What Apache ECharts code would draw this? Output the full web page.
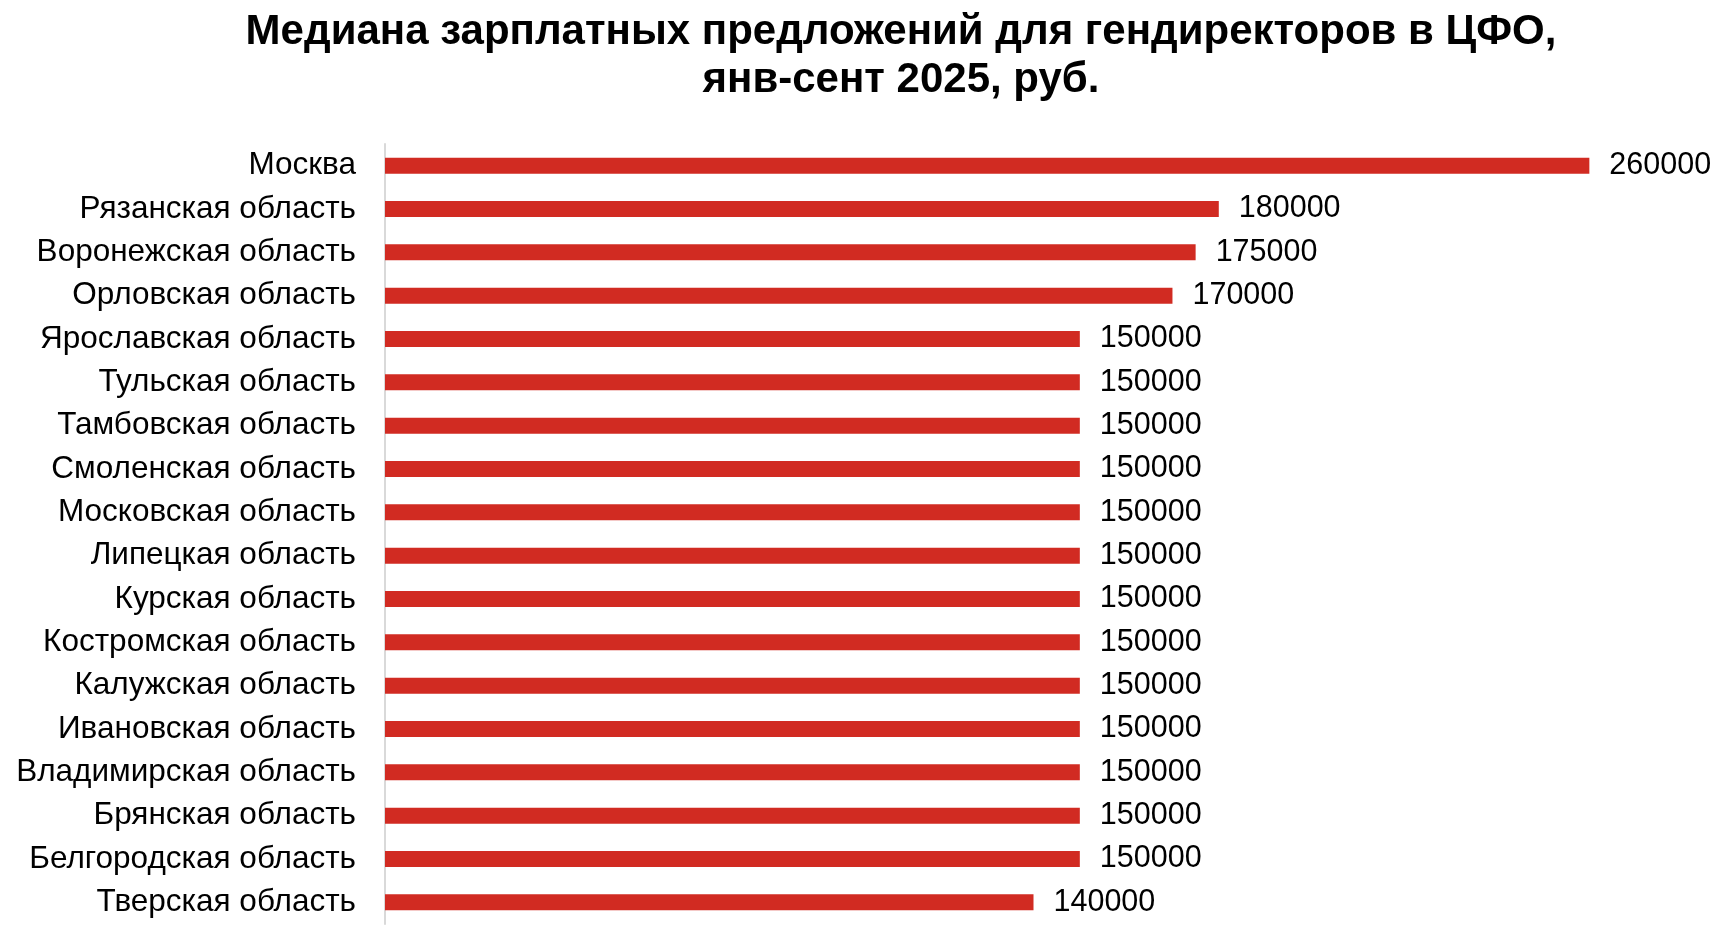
<!DOCTYPE html>
<html>
<head>
<meta charset="utf-8">
<script src="https://cdn.jsdelivr.net/npm/echarts@6/dist/echarts.min.js"></script>
<style>
  html, body { margin: 0; padding: 0; background: #fff; }
  #main { width: 1734px; height: 930px; }
</style>
</head>
<body>
<div id="main"></div>
<script>
// регионы сверху вниз
var regions = [
  'Москва', 'Рязанская область', 'Воронежская область', 'Орловская область',
  'Ярославская область', 'Тульская область', 'Тамбовская область', 'Смоленская область',
  'Московская область', 'Липецкая область', 'Курская область', 'Костромская область',
  'Калужская область', 'Ивановская область', 'Владимирская область', 'Брянская область',
  'Белгородская область', 'Тверская область'
];
// медиана, руб.
var salaries = [
  260000, 180000, 175000, 170000,
  150000, 150000, 150000, 150000,
  150000, 150000, 150000, 150000,
  150000, 150000, 150000, 150000,
  150000, 140000
];

var myChart = echarts.init(document.getElementById('main'));
myChart.setOption({
  animation: false,
  title: {
    text: 'Медиана зарплатных предложений для гендиректоров в ЦФО,\nянв-сент 2025, руб.',
    left: 896, // центр заголовка правее середины
    textAlign: 'center',
    top: 3,
    textStyle: {
      fontFamily: 'Liberation Sans',
      fontWeight: 'bold',
      fontSize: 42,
      lineHeight: 48,
      color: '#000'
    }
  },
  grid: {
    left: 385,
    right: 52,
    top: 144,
    bottom: 6
  },
  xAxis: {
    type: 'value',
    min: 0,
    max: 280000,
    show: false
  },
  yAxis: {
    type: 'category',
    inverse: true,
    data: regions,
    axisTick: { show: false },
    axisLine: {
      lineStyle: { color: '#d9d9d9', width: 2 }
    },
    axisLabel: {
      margin: 29,
      fontFamily: 'Liberation Sans',
      fontSize: 31.5,
      color: '#000'
    }
  },
  series: [{
    name: 'Медиана',
    type: 'bar',
    data: salaries,
    barWidth: 16,
    itemStyle: { color: '#d12b22' },
    label: {
      show: true,
      position: 'right',
      distance: 20,
      fontFamily: 'Liberation Sans',
      fontSize: 30.5,
      color: '#000'
    }
  }]
});
</script>
</body>
</html>
